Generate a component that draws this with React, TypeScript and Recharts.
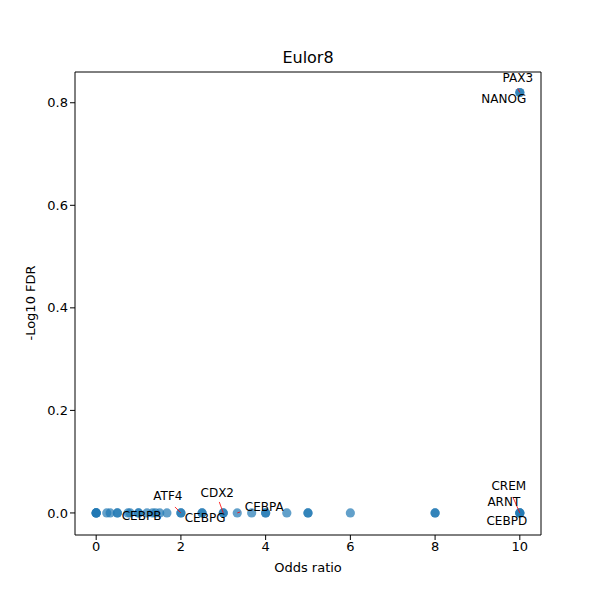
import { ScatterChart, Scatter, XAxis, YAxis, ReferenceLine } from 'recharts';

// all tested motifs: odds ratio vs -log10 FDR
const oddsRatio = [
  0, 0, 0, 0, 0.25, 0.33, 0.5, 0.5, 0.75, 0.8, 1, 1, 1.2, 1.33, 1.4, 1.5, 1.67,
  2, 2, 2.5, 2.5, 3, 3, 3.33, 3.67, 4, 4, 4.5, 5, 5, 6, 8, 8, 10, 10, 10, 10, 10,
];
const negLogFdr = [
  0, 0, 0, 0, 0, 0, 0, 0, 0, 0, 0, 0, 0, 0, 0, 0, 0,
  0, 0, 0, 0, 0, 0, 0, 0, 0, 0, 0, 0, 0, 0, 0, 0, 0, 0, 0, 0.82, 0.82,
];

// annotated genes
const labelGenes = ['PAX3', 'NANOG', 'CREM', 'ARNT', 'CEBPD', 'ATF4', 'CEBPB', 'CEBPG', 'CDX2', 'CEBPA'];
const labelOdds = [10, 10, 10, 10, 10, 2, 1, 2.5, 3, 3.33];
const labelFdr = [0.82, 0.82, 0, 0, 0, 0, 0, 0, 0, 0];

const xTicks = [0, 2, 4, 6, 8, 10];
const yTicks = [0, 0.2, 0.4, 0.6, 0.8];

// text offsets (px) from the point, plus optional red connector end
const OFFSETS: Record<string, { dx: number; dy: number; line?: [number, number] }> = {
  PAX3: { dx: -2, dy: -15, line: [-2, -4] },
  NANOG: { dx: -16, dy: 6 },
  CREM: { dx: -11, dy: -27, line: [-7, -16] },
  ARNT: { dx: -16, dy: -11 },
  CEBPD: { dx: -13, dy: 8 },
  ATF4: { dx: -13, dy: -17, line: [-6, -6] },
  CEBPB: { dx: 3, dy: 3 },
  CEBPG: { dx: 3, dy: 5 },
  CDX2: { dx: -6, dy: -20, line: [-4, -11] },
  CEBPA: { dx: 27, dy: -6, line: [3, -1] },
};

const FONT = '"DejaVu Sans", sans-serif';
const BLUE = '#1f77b4';

const points = oddsRatio.map((x, i) => ({ x, y: negLogFdr[i] }));
const labels = labelGenes.map((name, i) => ({ name, x: labelOdds[i], y: labelFdr[i] }));

const LabelShape = (props: any) => {
  const { cx, cy, payload } = props;
  const off = OFFSETS[payload.name];
  return (
    <g>
      {off.line && (
        <line x1={cx} y1={cy} x2={cx + off.line[0]} y2={cy + off.line[1]} stroke="red" strokeWidth={0.8} />
      )}
      <text
        x={cx + off.dx}
        y={cy + off.dy}
        textAnchor="middle"
        dominantBaseline="central"
        fontSize={12}
        fontFamily={FONT}
        fill="#000"
      >
        {payload.name}
      </text>
    </g>
  );
};

export default function App() {
  return (
    <div style={{ position: 'absolute', left: 0, top: 0, width: 600, height: 600, background: '#fff', fontFamily: FONT }}>
      <div style={{ position: 'absolute', left: 75, width: 466, top: 48, textAlign: 'center', fontSize: 16 }}>Eulor8</div>
      <div style={{ position: 'absolute', left: 75, width: 466, top: 560, textAlign: 'center', fontSize: 13 }}>Odds ratio</div>
      <div
        style={{
          position: 'absolute',
          left: 30,
          top: 303,
          fontSize: 13,
          whiteSpace: 'nowrap',
          transform: 'translate(-50%, -50%) rotate(-90deg)',
        }}
      >
        -Log10 FDR
      </div>
      <ScatterChart width={600} height={600} margin={{ top: 72, right: 59, left: 0, bottom: 0 }}>
        <XAxis
          type="number"
          dataKey="x"
          domain={[-0.5, 10.5]}
          ticks={xTicks}
          height={65}
          tickSize={5}
          stroke="#000"
          tick={{ fill: '#000', fontSize: 13, fontFamily: FONT }}
          allowDataOverflow
        />
        <YAxis
          type="number"
          dataKey="y"
          domain={[-0.043, 0.86]}
          ticks={yTicks}
          width={75}
          tickSize={5}
          stroke="#000"
          tickFormatter={(v: number) => v.toFixed(1)}
          tick={{ fill: '#000', fontSize: 13, fontFamily: FONT }}
          allowDataOverflow
        />
        <ReferenceLine y={0.86} stroke="#000" />
        <ReferenceLine x={10.5} stroke="#000" />
        <Scatter data={points} fill={BLUE} fillOpacity={0.7} isAnimationActive={false}
          shape={(p: any) => <circle cx={p.cx} cy={p.cy} r={4.6} fill={BLUE} fillOpacity={0.7} />} />
        <Scatter data={labels} isAnimationActive={false} shape={LabelShape} />
      </ScatterChart>
    </div>
  );
}
